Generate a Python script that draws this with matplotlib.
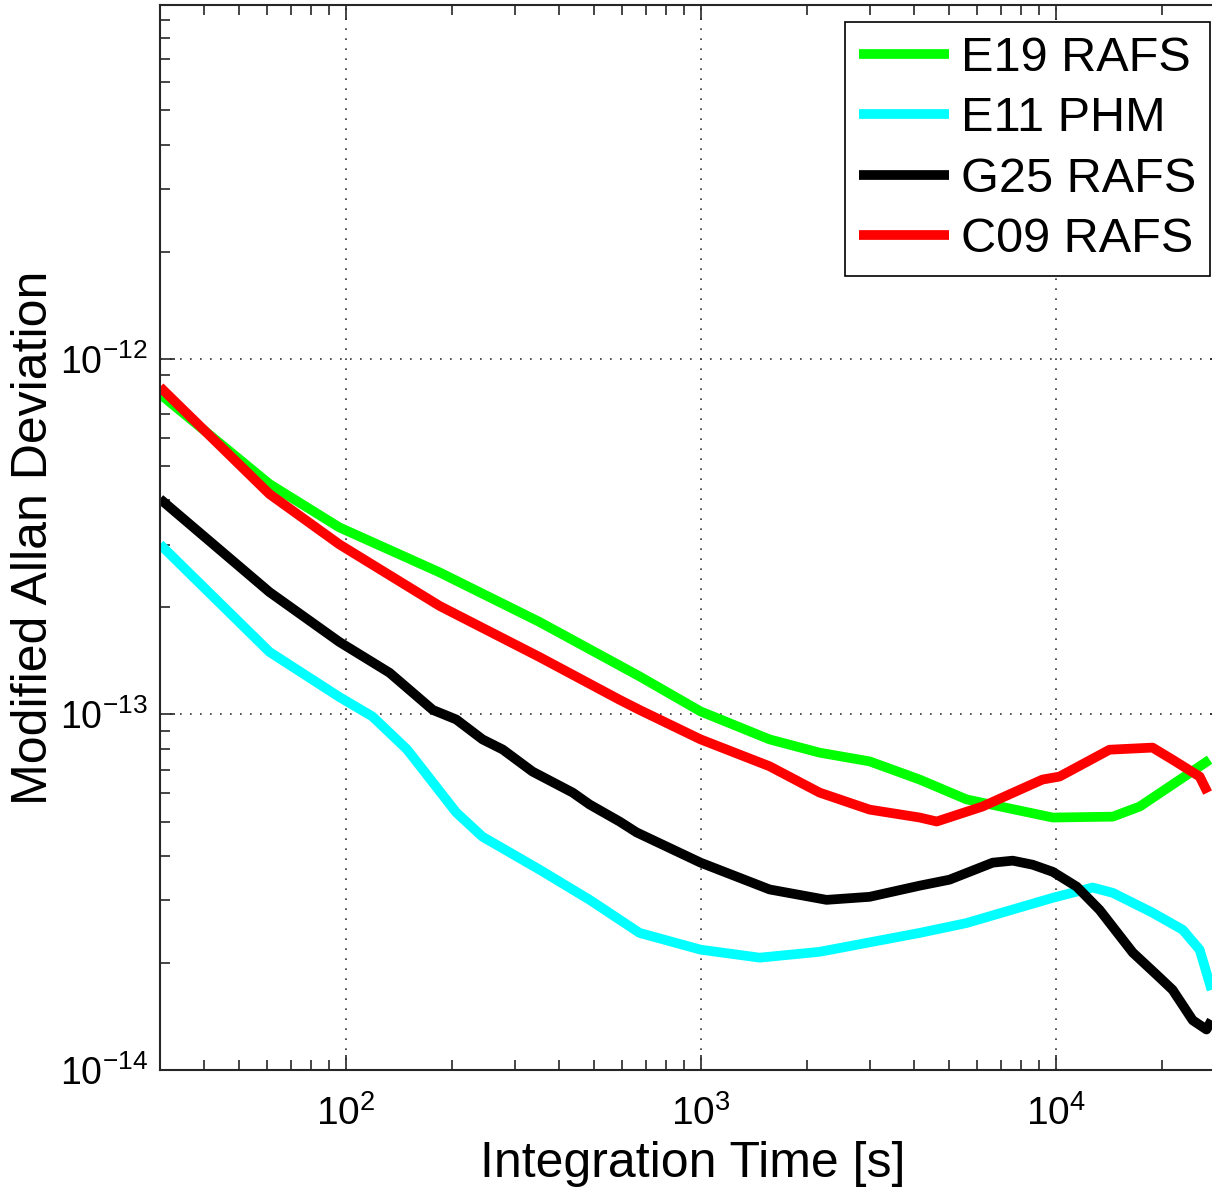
import matplotlib
matplotlib.use("Agg")
import matplotlib.pyplot as plt
from matplotlib.ticker import LogLocator, NullFormatter, FixedLocator, FixedFormatter

plt.rcParams['font.family'] = ['Liberation Sans', 'DejaVu Sans']
plt.rcParams['mathtext.fontset'] = 'custom'
plt.rcParams['mathtext.rm'] = 'Liberation Sans'
plt.rcParams['mathtext.it'] = 'Liberation Sans:italic'
plt.rcParams['mathtext.default'] = 'regular'
plt.rcParams['axes.unicode_minus'] = False

# ---- data ----
e19_tau = [30, 61, 96, 184, 352, 673, 1000, 1564, 2163, 2993, 4141, 5610,
           9813, 14490, 17260, 27150]
e19_adev = [7.97e-13, 4.45e-13, 3.36e-13, 2.51e-13, 1.82e-13, 1.28e-13, 1.02e-13,
            8.51e-14, 7.81e-14, 7.38e-14, 6.56e-14, 5.77e-14, 5.13e-14, 5.16e-14,
            5.51e-14, 7.46e-14]

e11_tau = [30, 61, 96, 119, 149, 205, 243, 352, 487, 673, 1000, 1466, 2163,
           4141, 5610, 9813, 12710, 14490, 18750, 22800, 25450, 27500]
e11_adev = [3.01e-13, 1.50e-13, 1.12e-13, 9.87e-14, 7.97e-14, 5.30e-14, 4.53e-14,
            3.66e-14, 3.01e-14, 2.43e-14, 2.18e-14, 2.07e-14, 2.15e-14, 2.43e-14,
            2.59e-14, 3.05e-14, 3.26e-14, 3.15e-14, 2.77e-14, 2.48e-14, 2.18e-14,
            1.68e-14]

g25_tau = [30, 61, 96, 133, 176, 205, 243, 277, 336, 436, 487, 591, 660, 1000,
           1564, 2264, 2993, 4141, 5023, 6650, 7570, 8610, 9813, 11460, 13300,
           16490, 19630, 21360, 24330, 26600, 27500]
g25_adev = [4.04e-13, 2.21e-13, 1.60e-13, 1.31e-13, 1.03e-13, 9.68e-14, 8.51e-14,
            7.97e-14, 6.91e-14, 6.03e-14, 5.58e-14, 5.00e-14, 4.66e-14, 3.83e-14,
            3.22e-14, 3.01e-14, 3.07e-14, 3.30e-14, 3.43e-14, 3.83e-14, 3.88e-14,
            3.78e-14, 3.61e-14, 3.28e-14, 2.82e-14, 2.14e-14, 1.82e-14, 1.68e-14,
            1.38e-14, 1.30e-14, 1.38e-14]

c09_tau = [30, 61, 96, 184, 352, 591, 673, 1000, 1564, 2163, 2993, 4141, 4624,
           6226, 7410, 9180, 10260, 14180, 18750, 21360, 25450, 26800]
c09_adev = [8.34e-13, 4.17e-13, 3.01e-13, 2.02e-13, 1.45e-13, 1.10e-13, 1.03e-13,
            8.51e-14, 7.15e-14, 6.03e-14, 5.40e-14, 5.13e-14, 5.00e-14, 5.51e-14,
            5.96e-14, 6.56e-14, 6.69e-14, 7.96e-14, 8.07e-14, 7.46e-14, 6.69e-14,
            6.03e-14]

labels = ["E19 RAFS", "E11 PHM", "G25 RAFS", "C09 RAFS"]
colors = ["#00ff00", "#00ffff", "#000000", "#ff0000"]

x_ticks = [1e2, 1e3, 1e4]
x_ticklabels = [r"$10^{2}$", r"$10^{3}$", r"$10^{4}$"]
y_ticks = [1e-14, 1e-13, 1e-12]
y_ticklabels = [r"$10^{-14}$", r"$10^{-13}$", r"$10^{-12}$"]

W, H = 1212, 1191
fig = plt.figure(figsize=(W / 100, H / 100), dpi=100)
ax = fig.add_axes([160 / W, 1 - 1070 / H, 1065 / W, 1065 / H])

series = [(e19_tau, e19_adev), (e11_tau, e11_adev), (g25_tau, g25_adev), (c09_tau, c09_adev)]
for (t, a), lab, c in zip(series, labels, colors):
    ax.plot(t, a, color=c, lw=7, label=lab, solid_joinstyle='round', solid_capstyle='butt')

ax.set_xscale('log')
ax.set_yscale('log')
ax.set_xlim(30, 30000)
ax.set_ylim(1e-14, 9.9e-12)

ax.xaxis.set_major_locator(FixedLocator(x_ticks))
ax.xaxis.set_major_formatter(FixedFormatter(x_ticklabels))
ax.yaxis.set_major_locator(FixedLocator(y_ticks))
ax.yaxis.set_major_formatter(FixedFormatter(y_ticklabels))
ax.xaxis.set_minor_locator(LogLocator(base=10, subs=range(2, 10), numticks=20))
ax.yaxis.set_minor_locator(LogLocator(base=10, subs=range(2, 10), numticks=20))
ax.xaxis.set_minor_formatter(NullFormatter())
ax.yaxis.set_minor_formatter(NullFormatter())

ax.tick_params(which='both', direction='in', top=True, right=True,
               width=1.2, colors='#262626', labelcolor='black')
ax.tick_params(axis='x', labelsize=28)
ax.tick_params(axis='y', labelsize=27)
ax.tick_params(which='major', length=11)
ax.tick_params(which='minor', length=7)
ax.tick_params(axis='x', pad=18)
ax.tick_params(axis='y', pad=9)

for s in ax.spines.values():
    s.set_linewidth(1.5)
    s.set_color('#262626')

ax.grid(True, which='major', linestyle=(0, (1, 5)), color='#333333', linewidth=1.2)

ax.set_xlabel("Integration Time [s]", fontsize=36, labelpad=6)
ax.set_ylabel("Modified Allan Deviation", fontsize=36)
ax.yaxis.set_label_coords(-0.097, 0.5)

leg = ax.legend(loc='upper right', bbox_to_anchor=(1210 / W, 1 - 22 / H),
                bbox_transform=fig.transFigure, fontsize=35, frameon=True,
                fancybox=False, framealpha=1, edgecolor='black', borderaxespad=0,
                handlelength=1.85, handletextpad=0.25, labelspacing=0.32,
                borderpad=0.28)
leg.get_frame().set_linewidth(1.2)
for l in leg.get_lines():
    l.set_linewidth(7)

fig.savefig("out.png", dpi=100)
